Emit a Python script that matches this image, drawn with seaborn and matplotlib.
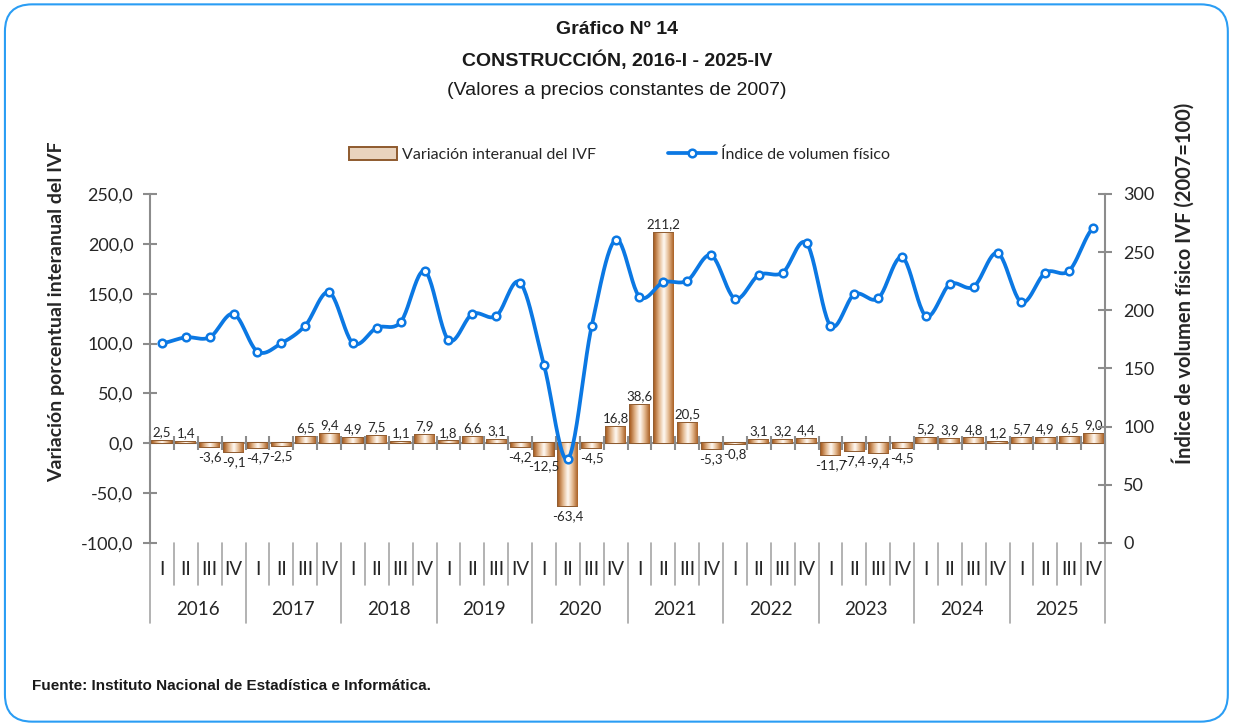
import numpy as np
import pandas as pd
import seaborn as sns
import matplotlib.pyplot as plt
import matplotlib.transforms as mtransforms
from matplotlib.patches import FancyBboxPatch, Patch
from matplotlib.lines import Line2D
from matplotlib.colors import LinearSegmentedColormap

# datos
years = ["2016", "2017", "2018", "2019", "2020", "2021", "2022", "2023", "2024", "2025"]
quarters = ["I", "II", "III", "IV"]

# variacion interanual del IVF (%)
variacion = [2.5, 1.4, -3.6, -9.1,
             -4.7, -2.5, 6.5, 9.4,
             4.9, 7.5, 1.1, 7.9,
             1.8, 6.6, 3.1, -4.2,
             -12.5, -63.4, -4.5, 16.8,
             38.6, 211.2, 20.5, -5.3,
             -0.8, 3.1, 3.2, 4.4,
             -11.7, -7.4, -9.4, -4.5,
             5.2, 3.9, 4.8, 1.2,
             5.7, 4.9, 6.5, 9.0]

# indice de volumen fisico (2007=100), estimado
indice = [171.7, 176.8, 176.8, 196.9,
          164.5, 171.7, 186.8, 215.5,
          171.7, 185.1, 190.0, 233.8,
          174.5, 196.9, 195.1, 223.8,
          153.0, 72.2, 186.8, 260.7,
          211.7, 224.1, 225.5, 247.3,
          210.0, 230.4, 232.4, 257.6,
          186.8, 213.8, 210.3, 245.6,
          195.1, 222.4, 220.3, 249.3,
          206.9, 232.4, 234.1, 270.8]

periodos = [f"{y}-{q}" for y in years for q in quarters]
df = pd.DataFrame({"periodo": periodos, "variacion": variacion, "indice": indice})

GRIS = "#8C8C8C"
AZUL = "#0B78E3"
MARRON = "#8E5A2E"

sns.set_style("white")
plt.rcParams["font.family"] = ["Lato", "DejaVu Sans"]
TIT = ["Liberation Sans", "DejaVu Sans"]

fig = plt.figure(figsize=(12.34, 7.26), dpi=100)
ax = fig.add_axes([0.1216, 0.2521, 0.7739, 0.4807])

sns.barplot(data=df, x="periodo", y="variacion", ax=ax, width=0.8,
            color="#E9D3BD", saturation=1, edgecolor=MARRON, linewidth=1.4,
            zorder=2)

# degradado tipo bisel en cada barra
cmap = LinearSegmentedColormap.from_list("bisel", ["#A95F24", "#E2B58A", "#FFFBF6", "#E2B58A", "#A95F24"])
grad = np.linspace(0, 1, 64).reshape(1, -1)
for p in list(ax.patches):
    x0, y0 = p.get_x(), p.get_y()
    w, h = p.get_width(), p.get_height()
    im = ax.imshow(grad, extent=[x0, x0 + w, y0, y0 + h], aspect="auto",
                   cmap=cmap, zorder=2.1, interpolation="bicubic")
    im.set_clip_path(p)

ax.set_xlim(-0.5, len(periodos) - 0.5)
ax.set_ylim(-100, 250)
ax.set_yticks(np.arange(-100, 251, 50))
ax.set_yticklabels([f"{v:.1f}".replace(".", ",") for v in np.arange(-100, 251, 50)])
ax.set_xticks([])
ax.set_xlabel("")
ax.set_ylabel("")
for s in ["top", "bottom", "right"]:
    ax.spines[s].set_visible(False)
ax.spines["left"].set_color(GRIS)
ax.spines["left"].set_linewidth(1.5)
ax.tick_params(axis="y", direction="inout", length=10, width=1.5, color=GRIS,
               labelsize=13, pad=7)

# eje de categorias en cero
ax.axhline(0, color=GRIS, lw=1.5, zorder=1)
bordes = np.arange(len(periodos) + 1) - 0.5
ax.plot(bordes, np.zeros_like(bordes), ls="none", marker="|", ms=10, mew=1.5,
        color=GRIS, zorder=3, clip_on=False)

# etiquetas de datos
for i, v in enumerate(variacion):
    txt = f"{v:.1f}".replace(".", ",")
    ax.annotate(txt, (i, v), xytext=(0, 2 if v >= 0 else -3), textcoords="offset points",
                ha="center", va="bottom" if v >= 0 else "top", fontsize=9.5, zorder=5)

# eje x multinivel
trans = mtransforms.blended_transform_factory(ax.transData, ax.transAxes)
for k, b in enumerate(bordes):
    largo = -0.23 if k % 4 == 0 else -0.12
    ax.plot([b, b], [0, largo], transform=trans, color="#A6A6A6", lw=1.2, clip_on=False)
for i, p in enumerate(periodos):
    ax.text(i, -0.077, quarters[i % 4], transform=trans, ha="center", va="center", fontsize=13.5)
for j, y in enumerate(years):
    ax.text(j * 4 + 1.5, -0.192, y, transform=trans, ha="center", va="center", fontsize=13.5)

# eje secundario: indice
ax2 = ax.twinx()
x = np.arange(len(indice), dtype=float)
yv = np.array(indice)
# curva suavizada (Catmull-Rom) como en Excel
xs, ys = [], []
for i in range(len(x) - 1):
    p0 = yv[i - 1] if i > 0 else yv[i]
    p3 = yv[i + 2] if i + 2 < len(yv) else yv[i + 1]
    m1 = (yv[i + 1] - p0) / 2
    m2 = (p3 - yv[i]) / 2
    t = np.linspace(0, 1, 25)
    h00 = 2 * t**3 - 3 * t**2 + 1
    h10 = t**3 - 2 * t**2 + t
    h01 = -2 * t**3 + 3 * t**2
    h11 = t**3 - t**2
    xs.extend(x[i] + t)
    ys.extend(h00 * yv[i] + h10 * m1 + h01 * yv[i + 1] + h11 * m2)
ax2.plot(xs, ys, color=AZUL, lw=2.7, zorder=3, solid_capstyle="round")
ax2.plot(x, yv, ls="none", marker="o", ms=5.5, mfc="white", mec=AZUL, mew=1.8, zorder=4)
ax2.set_ylim(0, 300)
ax2.set_yticks(np.arange(0, 301, 50))
ax2.set_yticklabels([str(v) for v in range(0, 301, 50)])
for s in ["top", "bottom", "left"]:
    ax2.spines[s].set_visible(False)
ax2.spines["right"].set_color(GRIS)
ax2.spines["right"].set_linewidth(1.5)
ax2.tick_params(axis="y", direction="inout", length=10, width=1.5, color=GRIS,
                labelsize=13, pad=8)
ax2.grid(False)
ax.grid(False)

# titulos de ejes
fig.text(0.046, 0.57, "Variación porcentual interanual del IVF", rotation=90,
         ha="center", va="center", fontsize=14, fontweight="bold")
fig.text(0.9585, 0.61, "Índice de volumen físico IVF (2007=100)", rotation=90,
         ha="center", va="center", fontsize=14.5, fontweight="bold")

# leyenda
handles = [Patch(facecolor="#E9D3BD", edgecolor=MARRON, linewidth=1.4),
           Line2D([0], [0], color=AZUL, lw=2.7, marker="o", ms=5.5, mfc="white", mec=AZUL, mew=1.8)]
fig.legend(handles, ["Variación interanual del IVF", "Índice de volumen físico"],
           loc="center", bbox_to_anchor=(0.502, 0.787), ncol=2, frameon=False,
           fontsize=11.5, handlelength=3.0, handleheight=0.9, columnspacing=4.5,
           handletextpad=0.3)

# titulo
fig.text(0.5, 0.9587, "Gráfico Nº 14", ha="center", va="center", fontsize=14,
         fontweight="bold", family=TIT, color="#1A1A1A")
fig.text(0.5, 0.9174, "CONSTRUCCIÓN, 2016-I - 2025-IV", ha="center", va="center",
         fontsize=14, fontweight="bold", family=TIT, color="#1A1A1A")
fig.text(0.5, 0.8747, "(Valores a precios constantes de 2007)", ha="center", va="center",
         fontsize=14, family=TIT, color="#1A1A1A")
fig.text(0.026, 0.055, "Fuente: Instituto Nacional de Estadística e Informática.",
         ha="left", va="center", fontsize=11, fontweight="bold", family=TIT, color="#1A1A1A")

# marco redondeado
marco = FancyBboxPatch((0.004, 0.006), 0.991, 0.988, boxstyle="round,pad=0,rounding_size=0.022",
                       mutation_aspect=1234 / 726, transform=fig.transFigure,
                       facecolor="none", edgecolor="#2A9DF4", lw=1.5)
fig.patches.append(marco)

fig.savefig("out.png", dpi=100)
